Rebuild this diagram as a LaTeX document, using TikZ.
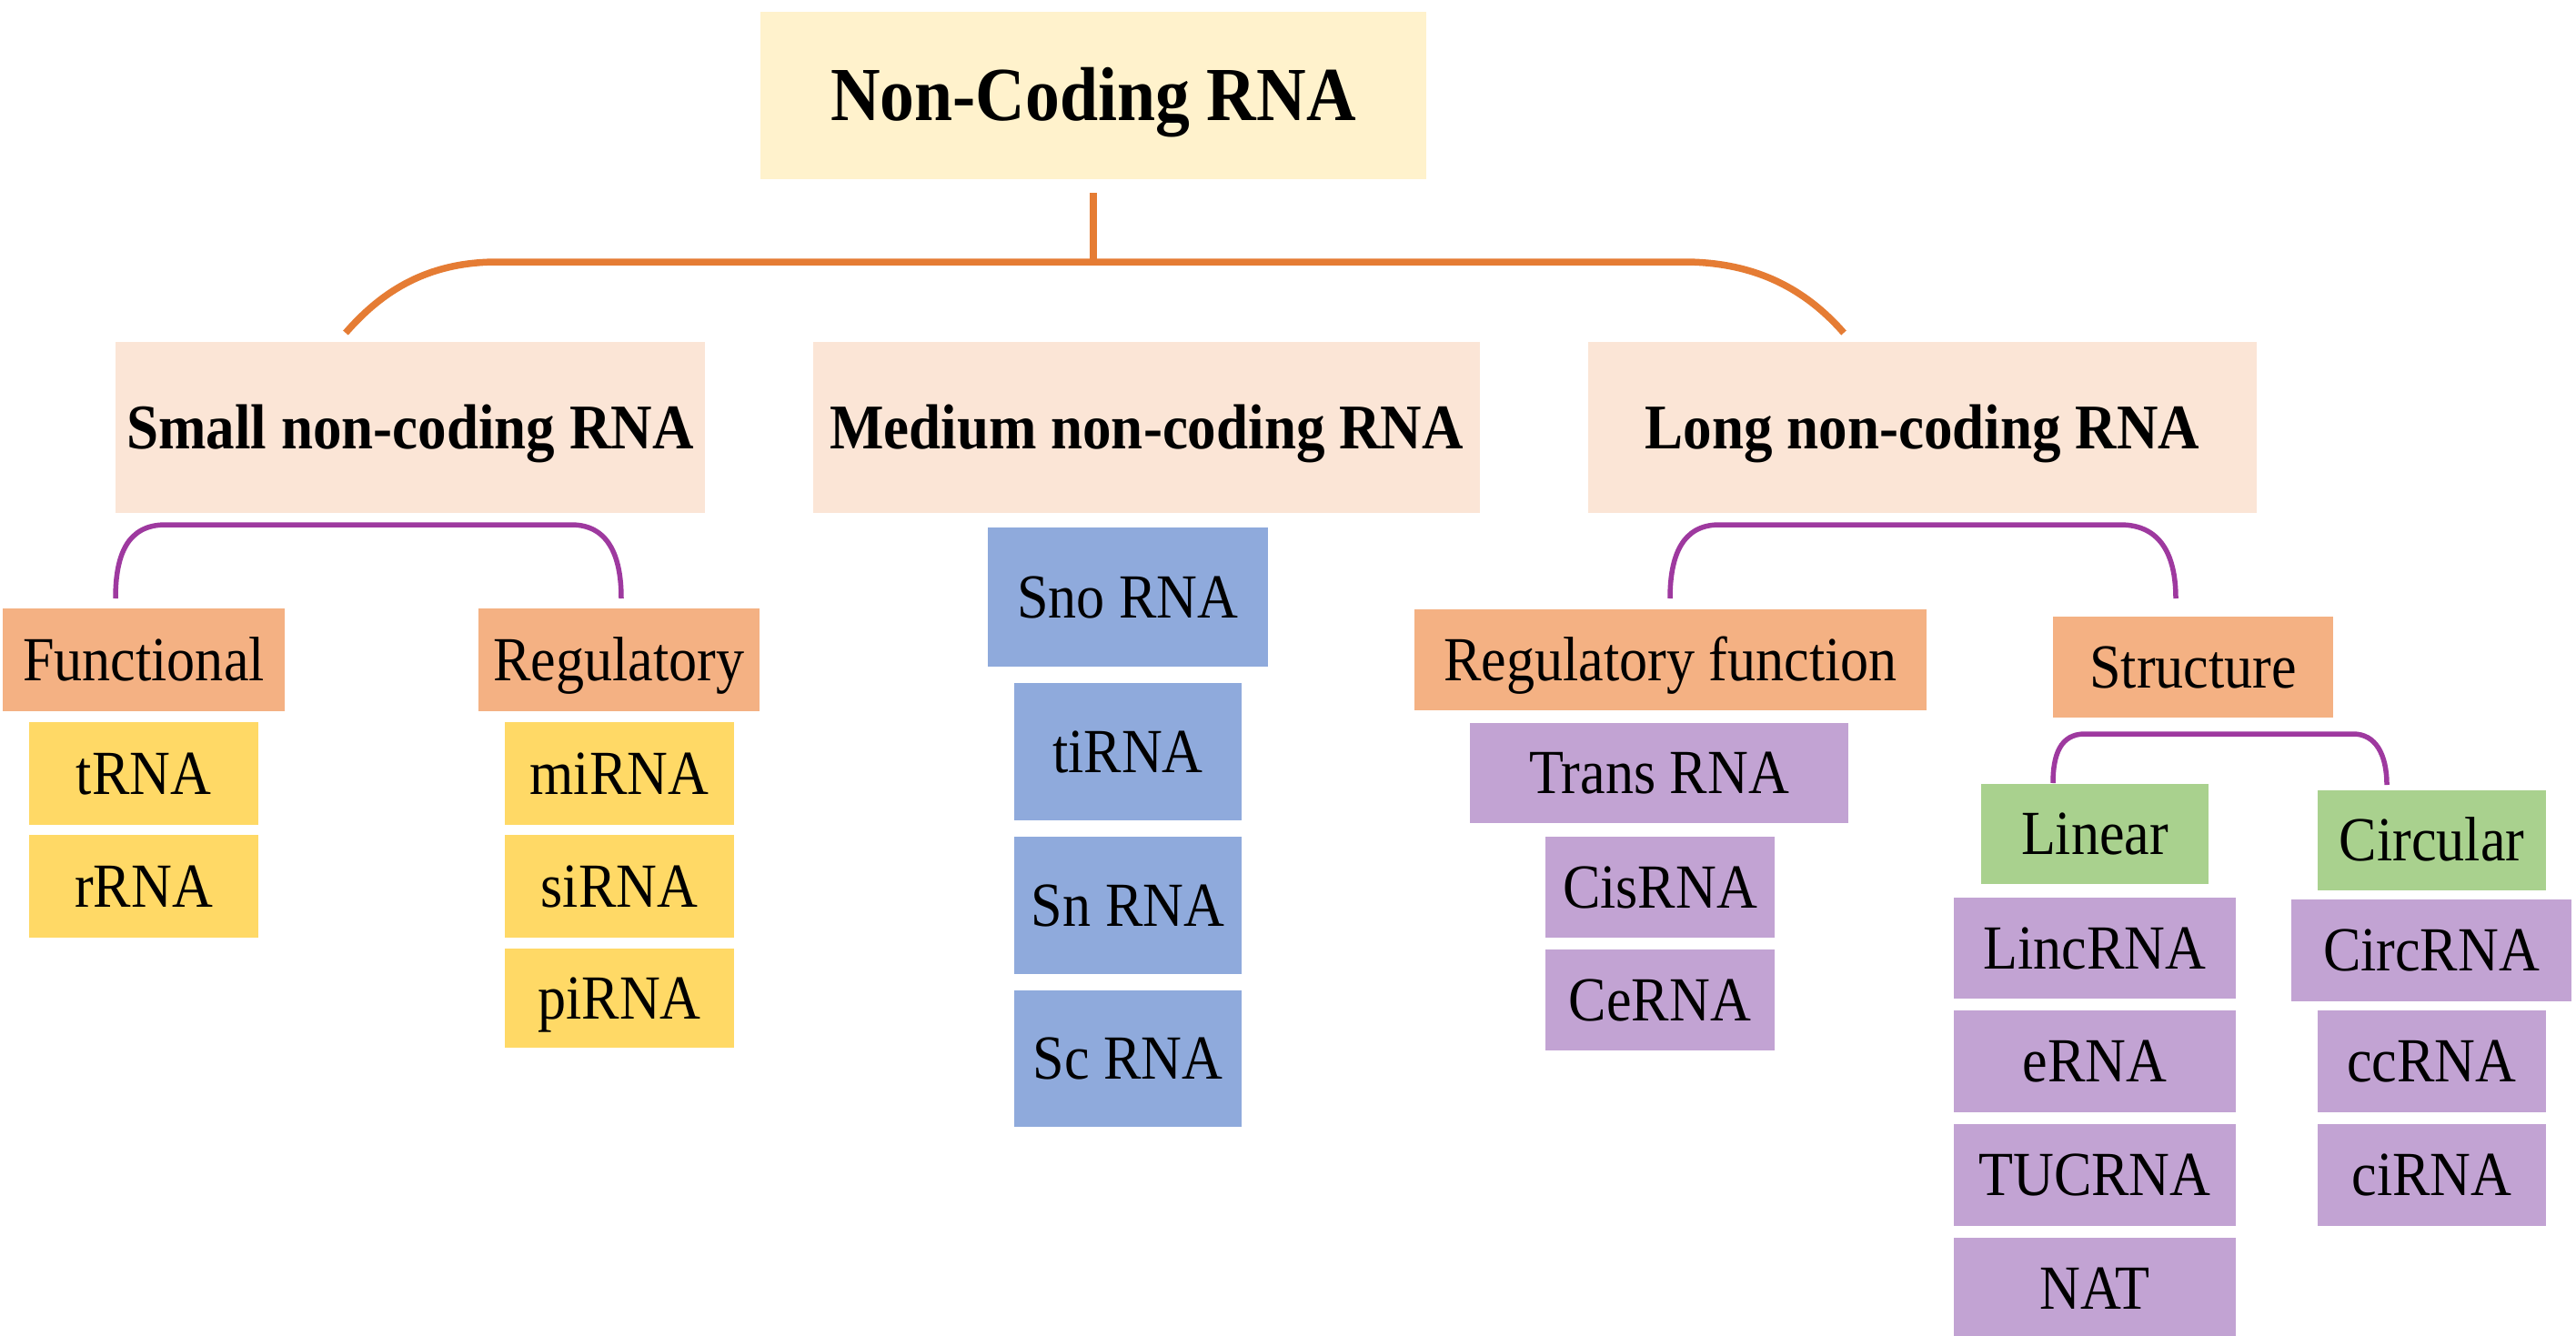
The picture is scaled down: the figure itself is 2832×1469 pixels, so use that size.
\documentclass[tikz,border=0pt]{standalone}
\usepackage{fontspec}
\setmainfont[FakeStretch=0.9]{Liberation Serif}
\definecolor{rootfill}{HTML}{FFF2CC}
\definecolor{lvltwo}{HTML}{FBE5D6}
\definecolor{salmon}{HTML}{F4B183}
\definecolor{gold}{HTML}{FFD966}
\definecolor{bluebox}{HTML}{8FAADC}
\definecolor{purplebox}{HTML}{C2A3D3}
\definecolor{greenbox}{HTML}{A9D18E}
\definecolor{orangeline}{HTML}{E57C34}
\definecolor{purpleline}{HTML}{9E399F}
\tikzset{
  x=1pt, y=-1pt,
  base/.style={rectangle, inner sep=0pt, text depth=0pt, align=center},
  rootbox/.style={base, fill=rootfill, text height=55pt, font=\fontsize{84}{90}\selectfont\bfseries},
  lvlbox/.style={base, fill=lvltwo, text height=46pt, font=\fontsize{70}{80}\selectfont\bfseries},
  regtext/.style={base, text height=45pt, font=\fontsize{69}{80}\selectfont},
  catbox/.style={regtext, fill=salmon},
  yelbox/.style={regtext, fill=gold},
  blubox/.style={regtext, fill=bluebox},
  purbox/.style={regtext, fill=purplebox},
  grnbox/.style={regtext, fill=greenbox},
  oline/.style={draw=orangeline, line width=7.5pt},
  pline/.style={draw=purpleline, line width=5.5pt},
}
\newcommand{\bx}[7]{% style, name, x1, x2, y1, y2, text
  \node[#1, minimum width={#4-#3}, minimum height={#6-#5}] (#2) at ({(#3+#4)/2},{(#5+#6)/2}) {#7};}
\begin{document}
\begin{tikzpicture}
\useasboundingbox (0,0) rectangle (2832,1469);
\fill[white] (0,0) rectangle (2832,1469);
% level 0/1
\bx{rootbox}{root}{836}{1568}{13}{197}{Non-Coding RNA}
\bx{lvlbox}{small}{127}{775}{376}{564}{Small non-coding RNA}
\bx{lvlbox}{medium}{894}{1627}{376}{564}{Medium non-coding RNA}
\bx{lvlbox}{long}{1746}{2481}{376}{564}{Long non-coding RNA}
% small branch
\bx{catbox}{functional}{3}{313}{669}{782}{Functional}
\bx{catbox}{regulatory}{526}{835}{669}{782}{Regulatory}
\bx{yelbox}{trna}{32}{284}{794}{907}{tRNA}
\bx{yelbox}{rrna}{32}{284}{918}{1031}{rRNA}
\bx{yelbox}{mirna}{555}{807}{794}{907}{miRNA}
\bx{yelbox}{sirna}{555}{807}{918}{1031}{siRNA}
\bx{yelbox}{pirna}{555}{807}{1043}{1152}{piRNA}
% medium branch
\bx{blubox}{sno}{1086}{1394}{580}{733}{Sno RNA}
\bx{blubox}{tirna}{1115}{1365}{751}{902}{tiRNA}
\bx{blubox}{snrna}{1115}{1365}{920}{1071}{Sn RNA}
\bx{blubox}{scrna}{1115}{1365}{1089}{1239}{Sc RNA}
% long branch
\bx{catbox}{regfunc}{1555}{2118}{670}{781}{Regulatory function}
\bx{purbox}{trans}{1616}{2032}{795}{905}{Trans RNA}
\bx{purbox}{cis}{1699}{1951}{920}{1031}{CisRNA}
\bx{purbox}{ce}{1699}{1951}{1044}{1155}{CeRNA}
\bx{catbox}{structure}{2257}{2565}{678}{789}{Structure}
\bx{grnbox}{linear}{2178}{2428}{862}{972}{Linear}
\bx{grnbox}{circular}{2548}{2799}{869}{979}{Circular}
\bx{purbox}{linc}{2148}{2458}{987}{1098}{LincRNA}
\bx{purbox}{erna}{2148}{2458}{1111}{1223}{eRNA}
\bx{purbox}{tucrna}{2148}{2458}{1236}{1348}{TUCRNA}
\bx{purbox}{nat}{2148}{2458}{1361}{1472}{NAT}
\bx{purbox}{circrna}{2519}{2827}{989}{1101}{CircRNA}
\bx{purbox}{ccrna}{2548}{2799}{1111}{1223}{ccRNA}
\bx{purbox}{cirna}{2548}{2799}{1236}{1348}{ciRNA}
% orange connectors
\coordinate (ojoin) at (root.south |- 0,288);
\coordinate (osl) at (380,366);
\coordinate (osr) at (2027,366);
\draw[orangeline, line width=8pt] ([yshift=-15pt]root.south) -- (ojoin);
\draw[oline] (osl) .. controls (420,320) and (470,288) .. (547,288) -- (1851,288)
  .. controls (1930,288) and (1985,318) .. (osr);
% purple connectors: small
\coordinate (psl) at (127,658);
\coordinate (psr) at (683,658);
\draw[pline] (psl) .. controls (127,610) and (140,577) .. (182,577) -- (628,577)
  .. controls (668,577) and (683,610) .. (psr);
% purple connectors: long
\coordinate (pll) at (1836,658);
\coordinate (plr) at (2392,658);
\draw[pline] (pll) .. controls (1836,610) and (1850,577) .. (1890,577) -- (2331,577)
  .. controls (2375,577) and (2392,610) .. (plr);
% purple connectors: structure
\coordinate (pil) at (2257,861);
\coordinate (pir) at (2624,863);
\draw[pline] (pil) .. controls (2257,830) and (2265,807) .. (2292,807) -- (2587,807)
  .. controls (2612,807) and (2624,830) .. (pir);
\end{tikzpicture}
\end{document}
